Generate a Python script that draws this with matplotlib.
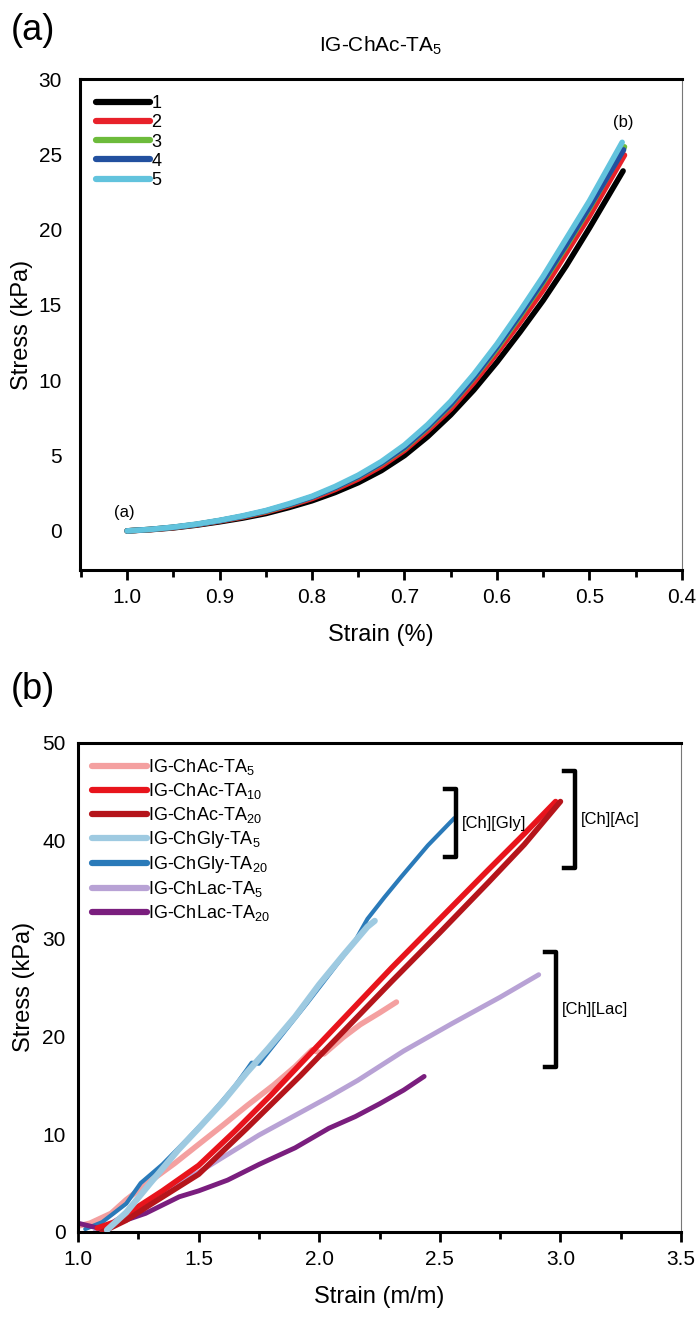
import matplotlib.pyplot as plt
from matplotlib.ticker import MultipleLocator

plt.rcParams['font.family'] = ['Liberation Sans Narrow', 'Liberation Sans', 'DejaVu Sans']
plt.rcParams['mathtext.fontset'] = 'custom'
plt.rcParams['mathtext.rm'] = 'Liberation Sans'

# ---- (a) data: five repeats of IG-ChAc-TA5 ----
strain_a = [1.0, 0.975, 0.95, 0.925, 0.9, 0.875, 0.85, 0.825, 0.8, 0.775, 0.75,
            0.725, 0.7, 0.675, 0.65, 0.625, 0.6, 0.575, 0.55, 0.525, 0.5]
rep_end_strain = [0.4635, 0.462, 0.462, 0.463, 0.4645]
rep_stress = [
    [0, 0.08, 0.20, 0.38, 0.60, 0.85, 1.15, 1.55, 2.00, 2.55, 3.20,
     4.00, 5.00, 6.25, 7.70, 9.35, 11.2, 13.2, 15.3, 17.6, 20.1, 23.9],
    [0, 0.09, 0.22, 0.41, 0.65, 0.92, 1.25, 1.67, 2.15, 2.75, 3.45,
     4.30, 5.35, 6.65, 8.10, 9.85, 11.8, 13.85, 16.0, 18.45, 20.9, 24.95],
    [0, 0.10, 0.24, 0.43, 0.68, 0.96, 1.30, 1.73, 2.25, 2.87, 3.60,
     4.47, 5.50, 6.85, 8.35, 10.15, 12.1, 14.25, 16.5, 18.9, 21.4, 25.5],
    [0, 0.10, 0.24, 0.43, 0.68, 0.97, 1.32, 1.75, 2.25, 2.88, 3.62,
     4.50, 5.55, 6.90, 8.40, 10.2, 12.2, 14.35, 16.6, 19.0, 21.5, 25.3],
    [0, 0.10, 0.25, 0.45, 0.70, 1.00, 1.35, 1.80, 2.30, 2.95, 3.70,
     4.60, 5.70, 7.05, 8.60, 10.4, 12.4, 14.6, 16.9, 19.4, 21.9, 25.8],
]
rep_labels = ['1', '2', '3', '4', '5']
rep_colors = ['#000000', '#e8212a', '#6dbb3b', '#22509f', '#62c3dd']

# ---- (b) data ----
ac5_x = [1.0, 1.05, 1.137, 1.2, 1.3, 1.4, 1.487, 1.6, 1.7, 1.81, 1.9, 1.97, 2.02, 2.1, 2.17, 2.25, 2.32]
ac5_y = [0.6, 0.9, 1.9, 3.3, 5.2, 7.0, 8.7, 10.9, 12.9, 15.0, 16.9, 18.6, 18.2, 19.9, 21.2, 22.4, 23.5]
ac10_x = [1.08, 1.15, 1.25, 1.35, 1.5, 1.65, 1.8, 1.923, 2.1, 2.3, 2.5, 2.7, 2.85, 2.98]
ac10_y = [0.4, 1.0, 2.6, 4.2, 6.8, 10.3, 14.0, 17.2, 21.8, 27.0, 32.0, 37.0, 40.7, 44.0]
ac20_x = [1.1, 1.2, 1.3, 1.5, 1.7, 1.923, 2.1, 2.3, 2.5, 2.7, 2.85, 3.0]
ac20_y = [0.0, 1.2, 2.8, 5.9, 10.6, 16.0, 20.5, 25.6, 30.6, 35.7, 39.6, 44.0]
gly5_x = [1.12, 1.2, 1.3, 1.416, 1.5, 1.6, 1.7, 1.79, 1.9, 2.0, 2.1, 2.2, 2.23]
gly5_y = [0.2, 2.0, 5.0, 8.4, 10.6, 13.3, 16.3, 18.8, 22.0, 25.3, 28.3, 31.2, 31.8]
gly20_x = [1.03, 1.1, 1.2, 1.26, 1.35, 1.45, 1.55, 1.65, 1.7, 1.72, 1.75, 1.85, 1.95,
           2.05, 2.15, 2.2, 2.27, 2.34, 2.45, 2.56]
gly20_y = [0.3, 1.0, 2.9, 5.0, 6.9, 9.4, 12.0, 14.9, 16.6, 17.3, 17.2, 20.3, 23.4,
           26.6, 29.8, 32.0, 34.2, 36.3, 39.5, 42.3]
lac5_x = [1.07, 1.13, 1.2, 1.34, 1.5, 1.75, 2.04, 2.16, 2.35, 2.55, 2.75, 2.91]
lac5_y = [0.0, 0.8, 1.8, 3.9, 6.1, 9.9, 13.8, 15.5, 18.5, 21.3, 24.0, 26.3]
lac20_x = [1.0, 1.05, 1.1, 1.15, 1.28, 1.42, 1.5, 1.62, 1.75, 1.9, 2.04, 2.15, 2.25, 2.35, 2.435]
lac20_y = [0.9, 0.6, 0.3, 0.8, 1.9, 3.6, 4.2, 5.3, 6.9, 8.6, 10.6, 11.8, 13.1, 14.5, 15.9]

series_b = [
    (ac5_x, ac5_y, r'IG-ChAc-TA$_{5}$', '#f4a0a0', 4.0, 2),
    (ac10_x, ac10_y, r'IG-ChAc-TA$_{10}$', '#e8141c', 4.0, 3),
    (ac20_x, ac20_y, r'IG-ChAc-TA$_{20}$', '#b5151b', 4.0, 3),
    (gly5_x, gly5_y, r'IG-ChGly-TA$_{5}$', '#9ecae1', 4.5, 3),
    (gly20_x, gly20_y, r'IG-ChGly-TA$_{20}$', '#2a7ab9', 3.0, 2),
    (lac5_x, lac5_y, r'IG-ChLac-TA$_{5}$', '#b8a2d5', 3.5, 2),
    (lac20_x, lac20_y, r'IG-ChLac-TA$_{20}$', '#7a1e7e', 3.5, 2),
]

# brackets: (x of bar, y bottom, y top, label)
brackets = [
    (2.568, 38.3, 45.3, '[Ch][Gly]'),
    (3.06, 37.2, 47.1, '[Ch][Ac]'),
    (2.98, 16.9, 28.6, '[Ch][Lac]'),
]


def style_axes(ax, ypad):
    for s in ['left', 'bottom', 'top']:
        ax.spines[s].set_linewidth(2.2)
    ax.spines['right'].set_linewidth(0.8)
    ax.spines['right'].set_color('#777777')
    ax.tick_params(axis='x', which='major', direction='out', length=7, width=2, labelsize=15, pad=6)
    ax.tick_params(axis='x', which='minor', direction='out', length=5, width=2)
    ax.tick_params(axis='y', length=0, labelsize=15, pad=ypad)


fig = plt.figure(figsize=(6.99, 13.22), dpi=100)

# ---------- (a) ----------
ax1 = fig.add_axes([0.1144, 0.5688, 0.861, 0.3714])
for i in range(5):
    ax1.plot(strain_a + [rep_end_strain[i]], rep_stress[i], color=rep_colors[i],
             lw=4, solid_capstyle='round', label=rep_labels[i])
ax1.set_xlim(1.051, 0.4)
ax1.set_ylim(-2.6, 30)
ax1.xaxis.set_major_locator(MultipleLocator(0.1))
ax1.xaxis.set_minor_locator(MultipleLocator(0.05))
ax1.yaxis.set_major_locator(MultipleLocator(5))
ax1.xaxis.set_major_formatter(plt.FuncFormatter(lambda v, p: f'{v:.1f}'))
style_axes(ax1, 13)
ax1.set_xlabel('Strain (%)', fontsize=17, labelpad=12)
ax1.set_ylabel('Stress (kPa)', fontsize=17)
ax1.yaxis.set_label_coords(-0.078, 0.5)
ax1.set_title(r'IG-ChAc-TA$_{5}$', fontsize=15, pad=20)
ax1.text(1.003, 0.7, '(a)', fontsize=12, ha='center', va='bottom')
ax1.text(0.463, 26.6, '(b)', fontsize=12, ha='center', va='bottom')
leg1 = ax1.legend(loc='upper left', frameon=False, fontsize=13, handlelength=3.0,
                  handletextpad=0.05, labelspacing=0.12, borderaxespad=0.5)
for h in leg1.get_lines():
    h.set_linewidth(4.5)
fig.text(0.015, 0.99, '(a)', fontsize=26, va='top')

# ---------- (b) ----------
ax2 = fig.add_axes([0.1116, 0.0681, 0.8627, 0.370])
for x, y, lab, c, lw, z in series_b:
    ax2.plot(x, y, color=c, lw=lw, solid_capstyle='round', label=lab, zorder=z)
for xb, y0, y1, lab in brackets:
    ax2.plot([xb - 0.045, xb, xb, xb - 0.045], [y0, y0, y1, y1], color='black', lw=3.2)
    ax2.text(xb + 0.025, (y0 + y1) / 2, lab, fontsize=12, va='center', ha='left')
ax2.set_xlim(1.0, 3.5)
ax2.set_ylim(0, 50)
ax2.xaxis.set_major_locator(MultipleLocator(0.5))
ax2.xaxis.set_minor_locator(MultipleLocator(0.25))
ax2.yaxis.set_major_locator(MultipleLocator(10))
style_axes(ax2, 9)
ax2.set_xlabel('Strain (m/m)', fontsize=17, labelpad=12)
ax2.set_ylabel('Stress (kPa)', fontsize=17)
ax2.yaxis.set_label_coords(-0.071, 0.5)
leg2 = ax2.legend(loc='upper left', frameon=False, fontsize=13, handlelength=3.0,
                  handletextpad=0.05, labelspacing=0.22, borderaxespad=0.4)
for h in leg2.get_lines():
    h.set_linewidth(4.5)
fig.text(0.015, 0.492, '(b)', fontsize=26, va='top')

fig.savefig('out.png', dpi=100)
